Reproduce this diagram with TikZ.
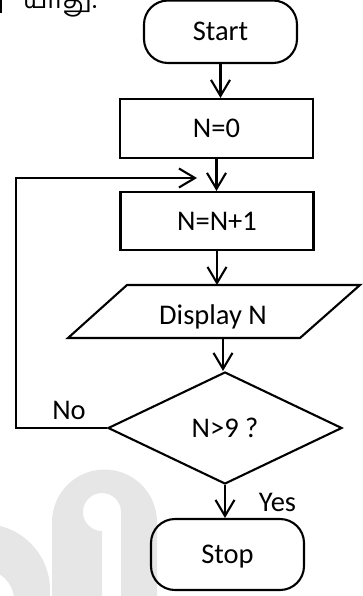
\documentclass[tikz,border=0pt]{standalone}
\usepackage{fontspec}
\setmainfont{Carlito}
\newfontfamily\tamilfont[Script=Tamil]{Hind Madurai}
\usetikzlibrary{shapes.geometric,arrows.meta,calc}
\definecolor{wmgray}{RGB}{230,230,230}
\begin{document}
\begin{tikzpicture}[x=1pt,y=-1pt,
  line width=2.1pt,
  every node/.style={font=\fontsize{28.5}{34}\selectfont, text height=18pt, text depth=0pt},
  term/.style={draw, rectangle, rounded corners=24pt, minimum width=153pt},
  procbox/.style={draw, rectangle, minimum width=193pt, minimum height=59pt},
  decis/.style={draw, diamond, aspect=2, minimum width=234pt, minimum height=112pt, inner sep=0pt},
  flow/.style={-{Straight Barb[length=16pt,width=19pt]}},
  lbl/.style={inner sep=0pt},
  wm/.style={fill=wmgray, draw=none, even odd rule}
]
\useasboundingbox (0,0) rectangle (362,596);
% watermark
\fill[wm] (52,596) -- (52,522) arc[start angle=180, end angle=360, radius=52.5] -- (157,596) -- cycle
          (121,596) -- (121,512) arc[start angle=0, end angle=-270, radius=19] -- (102,596) -- cycle;
\fill[wm] (-16,590) circle[radius=66] (-16,600) circle[radius=30];
% cut-off heading
\draw[line width=1.4pt] (1,-2) -- (1,13);
\node[font=\tamilfont\fontsize{26}{30}\selectfont, anchor=base west, inner sep=0pt] (tam) at (22,9) {யாது:};
% nodes
\node[term, minimum height=62.5pt] (start) at (220.5,31.75) {Start};
\node[procbox] (n0) at (216.5,128.5) {N=0};
\node[procbox, minimum height=58pt] (n1) at (217,221) {N=N+1};
\node[lbl] (disp) at (213,315) {Display N};
\draw ($(disp)+(-86,-30)$) -- ($(disp)+(147,-30)$) -- ($(disp)+(87,23)$) -- ($(disp)+(-145,23)$) -- cycle;
\coordinate (disptop) at ($(disp)+(8,-30)$);
\coordinate (dispbot) at ($(disp)+(10,23)$);
\node[decis] (dec) at (225,428) {N>9 ?};
\node[term, minimum height=71pt] (stop) at (227.5,554.5) {Stop};
\node[lbl] (no) at (69,410) {No};
\node[lbl] (yes) at (277.5,502) {Yes};
\coordinate (loopin) at (197,178);
% connectors
\draw[flow] (start.south) -- (start.south |- n0.north);
\draw[flow] (n0.south) -- (n0.south |- n1.north);
\draw[flow] (n1.south) -- (n1.south |- disptop);
\draw[flow] (dispbot) -- (dispbot |- dec.north);
\draw[flow] (dec.south) -- (dec.south |- stop.north);
\draw[flow] (dec.west) -- ++(-91,0) |- (loopin);
\end{tikzpicture}
\end{document}
